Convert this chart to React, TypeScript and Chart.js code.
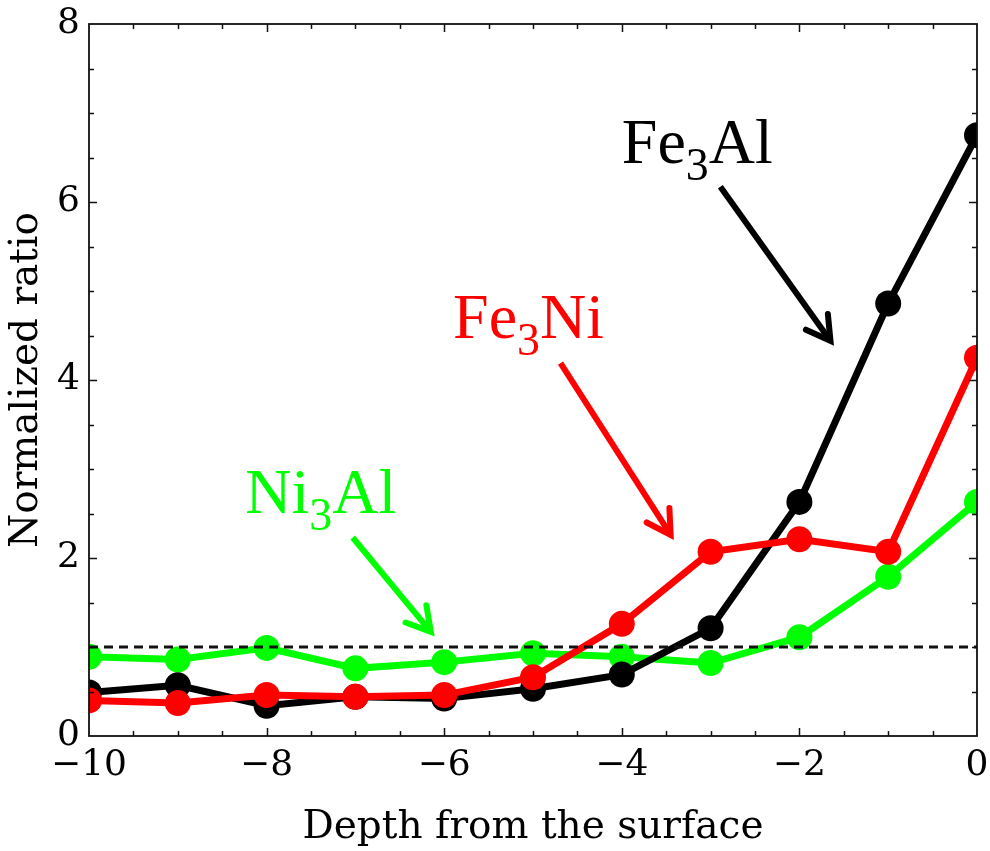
import { useEffect, useRef } from "react";
import { Chart, registerables } from "chart.js";

Chart.register(...registerables);

// Depth positions (layers below the surface) and normalized ratios per phase
const depths = [-10, -9, -8, -7, -6, -5, -4, -3, -2, -1, 0];
const fe3AlRatio = [0.49, 0.57, 0.34, 0.44, 0.42, 0.53, 0.69, 1.21, 2.63, 4.86, 6.75];
const fe3NiRatio = [0.4, 0.37, 0.46, 0.44, 0.46, 0.66, 1.26, 2.07, 2.21, 2.07, 4.25];
const ni3AlRatio = [0.89, 0.86, 0.99, 0.76, 0.83, 0.93, 0.89, 0.82, 1.11, 1.79, 2.63];
const referenceLevel = 1;

const xTickValues = [-10, -8, -6, -4, -2, 0];
const yTickValues = [0, 2, 4, 6, 8];

// Phase labels: name split around the subscript
const phaseLabels = [
  { head: "Fe", sub: "3", tail: "Al", color: "#000000" },
  { head: "Fe", sub: "3", tail: "Ni", color: "#ff0000" },
  { head: "Ni", sub: "3", tail: "Al", color: "#00ff00" },
];
// Label anchors and arrow ends in data coordinates (depth, ratio)
const labelAnchors = [
  { x: -4.0, y: 6.44 },
  { x: -5.9, y: 4.47 },
  { x: -8.24, y: 2.51 },
];
const arrowStarts = [
  { x: -2.89, y: 6.17 },
  { x: -4.69, y: 4.19 },
  { x: -7.03, y: 2.23 },
];
const arrowTips = [
  { x: -1.65, y: 4.44 },
  { x: -3.45, y: 2.26 },
  { x: -6.15, y: 1.17 },
];

const AXIS_FONT = '"DejaVu Serif", serif';
const LABEL_FONT = '"Liberation Serif", "Times New Roman", serif';

const toPoints = (ys: number[]) => depths.map((d, i) => ({ x: d, y: ys[i] }));

const fmtTick = (v: number) => (v < 0 ? "\u2212" + Math.abs(v) : String(v));

function drawArrow(ctx: CanvasRenderingContext2D, x0: number, y0: number, x1: number, y1: number, color: string) {
  const ang = Math.atan2(y1 - y0, x1 - x0);
  const arm = 27;
  const spread = Math.PI / 6;
  ctx.save();
  ctx.strokeStyle = color;
  ctx.lineWidth = 6;
  ctx.lineCap = "butt";
  ctx.beginPath();
  ctx.moveTo(x0, y0);
  ctx.lineTo(x1 - Math.cos(ang) * 2, y1 - Math.sin(ang) * 2);
  ctx.stroke();
  ctx.lineJoin = "miter";
  ctx.lineCap = "round";
  ctx.beginPath();
  ctx.moveTo(x1 - arm * Math.cos(ang - spread), y1 - arm * Math.sin(ang - spread));
  ctx.lineTo(x1, y1);
  ctx.lineTo(x1 - arm * Math.cos(ang + spread), y1 - arm * Math.sin(ang + spread));
  ctx.stroke();
  ctx.restore();
}

const framePlugin = {
  id: "frameAndLabels",
  afterDatasetsDraw(chart: any) {
    const { ctx, chartArea: a, scales } = chart;
    const xs = scales.x;
    const ys = scales.y;
    ctx.save();
    ctx.strokeStyle = "#111";
    ctx.lineWidth = 1.8;
    ctx.strokeRect(a.left, a.top, a.right - a.left, a.bottom - a.top);

    // inward ticks on all four sides: major every 2, minor every 0.5
    ctx.lineWidth = 1.5;
    ctx.beginPath();
    for (let i = 1; i < 20; i++) {
      const v = -10 + i * 0.5;
      const len = i % 4 === 0 ? 8 : 5;
      const px = Math.round(xs.getPixelForValue(v)) + 0.5;
      ctx.moveTo(px, a.bottom);
      ctx.lineTo(px, a.bottom - len);
      ctx.moveTo(px, a.top);
      ctx.lineTo(px, a.top + len);
    }
    for (let i = 1; i < 16; i++) {
      const v = i * 0.5;
      const len = i % 4 === 0 ? 8 : 5;
      const py = Math.round(ys.getPixelForValue(v)) + 0.5;
      ctx.moveTo(a.left, py);
      ctx.lineTo(a.left + len, py);
      ctx.moveTo(a.right, py);
      ctx.lineTo(a.right - len, py);
    }
    ctx.stroke();
    ctx.restore();

    // phase labels with arrows
    phaseLabels.forEach((lab, i) => {
      const tx = xs.getPixelForValue(labelAnchors[i].x);
      const ty = ys.getPixelForValue(labelAnchors[i].y);
      ctx.save();
      ctx.fillStyle = lab.color;
      ctx.textBaseline = "alphabetic";
      ctx.textAlign = "left";
      ctx.font = `64px ${LABEL_FONT}`;
      ctx.fillText(lab.head, tx, ty);
      const w1 = ctx.measureText(lab.head).width;
      ctx.font = `46px ${LABEL_FONT}`;
      ctx.fillText(lab.sub, tx + w1, ty + 17);
      const w2 = ctx.measureText(lab.sub).width;
      ctx.font = `64px ${LABEL_FONT}`;
      ctx.fillText(lab.tail, tx + w1 + w2, ty);
      ctx.restore();
      drawArrow(
        ctx,
        xs.getPixelForValue(arrowStarts[i].x),
        ys.getPixelForValue(arrowStarts[i].y),
        xs.getPixelForValue(arrowTips[i].x),
        ys.getPixelForValue(arrowTips[i].y),
        lab.color
      );
    });
  },
};

export default function App() {
  const canvasRef = useRef<HTMLCanvasElement | null>(null);

  useEffect(() => {
    const canvas = canvasRef.current;
    if (!canvas) return;
    const seriesStyle = (color: string) => ({
      borderColor: color,
      backgroundColor: color,
      pointBackgroundColor: color,
      pointBorderColor: color,
      borderWidth: 7,
      pointRadius: 13,
      pointBorderWidth: 0,
      pointHoverRadius: 13,
      tension: 0,
      clip: 0,
      fill: false,
    });

    const chart = new Chart(canvas, {
      type: "line",
      data: {
        datasets: [
          {
            label: "reference",
            data: [
              { x: -10, y: referenceLevel },
              { x: 0, y: referenceLevel },
            ],
            borderColor: "#111111",
            borderWidth: 3,
            borderDash: [9, 6],
            pointRadius: 0,
            fill: false,
            clip: 0,
            order: 0,
          },
          { label: "Fe3Ni", data: toPoints(fe3NiRatio), ...seriesStyle("#ff0000"), order: 1 },
          { label: "Fe3Al", data: toPoints(fe3AlRatio), ...seriesStyle("#000000"), order: 2 },
          { label: "Ni3Al", data: toPoints(ni3AlRatio), ...seriesStyle("#00ff00"), order: 3 },
        ],
      },
      options: {
        responsive: false,
        animation: false,
        devicePixelRatio: 1,
        layout: { padding: { top: 24, right: 11, left: 0, bottom: 0 } },
        plugins: {
          legend: { display: false },
          tooltip: { enabled: false },
        },
        scales: {
          x: {
            type: "linear",
            min: -10,
            max: 0,
            grid: { display: false, drawTicks: false },
            border: { display: false },
            afterBuildTicks: (s: any) => {
              s.ticks = xTickValues.map((v) => ({ value: v }));
            },
            afterFit: (s: any) => {
              s.height = 115;
              s.paddingLeft = 0;
              s.paddingRight = 0;
            },
            ticks: {
              color: "#000",
              padding: 8,
              maxRotation: 0,
              font: { family: AXIS_FONT, size: 36 },
              callback: (v: any) => fmtTick(Number(v)),
            },
            title: {
              display: true,
              text: "Depth from the surface",
              color: "#000",
              font: { family: AXIS_FONT, size: 39 },
              padding: { top: 0, bottom: 0 },
            },
          },
          y: {
            type: "linear",
            min: 0,
            max: 8,
            grid: { display: false, drawTicks: false },
            border: { display: false },
            afterBuildTicks: (s: any) => {
              s.ticks = yTickValues.map((v) => ({ value: v }));
            },
            afterFit: (s: any) => {
              s.width = 89;
              s.paddingTop = 0;
              s.paddingBottom = 0;
            },
            ticks: {
              color: "#000",
              padding: 9,
              font: { family: AXIS_FONT, size: 36 },
              callback: (v: any) => fmtTick(Number(v)),
            },
            title: {
              display: true,
              text: "Normalized ratio",
              color: "#000",
              font: { family: AXIS_FONT, size: 39 },
              padding: { top: 3, bottom: 0 },
            },
          },
        },
      },
      plugins: [framePlugin],
    } as any);

    return () => chart.destroy();
  }, []);

  return (
    <div style={{ position: "fixed", left: 0, top: 0, width: 990, height: 851, background: "#fff" }}>
      <canvas ref={canvasRef} width={990} height={851} style={{ display: "block" }} />
    </div>
  );
}
